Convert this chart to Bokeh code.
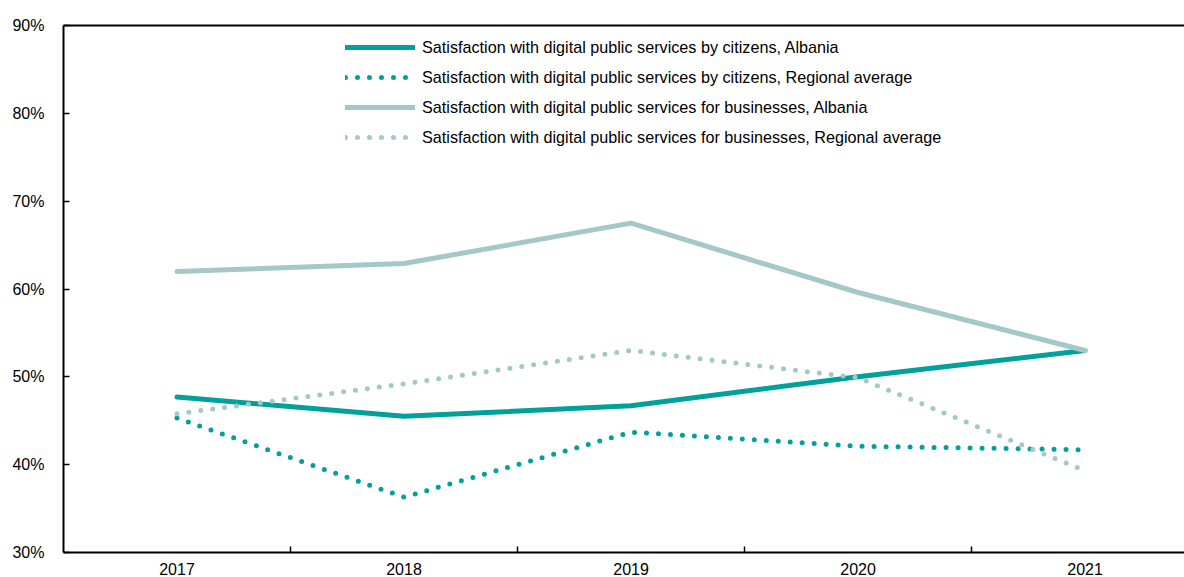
from bokeh.plotting import figure
from bokeh.models import Range1d, FixedTicker, LinearAxis, Legend, LegendItem, CustomJSTickFormatter
from bokeh.embed import file_html
from bokeh.resources import INLINE

years = ["2017", "2018", "2019", "2020", "2021"]
citizens_albania = [47.7, 45.5, 46.7, 50.0, 53.0]
citizens_regional = [45.3, 36.3, 43.7, 42.1, 41.7]
business_albania = [62.0, 62.9, 67.5, 59.6, 53.0]
business_regional = [45.8, 49.2, 53.0, 49.9, 39.3]
y_ticks = [30, 40, 50, 60, 70, 80, 90]

labels = [
    "Satisfaction with digital public services by citizens, Albania",
    "Satisfaction with digital public services by citizens, Regional average",
    "Satisfaction with digital public services for businesses, Albania",
    "Satisfaction with digital public services for businesses, Regional average",
]

TEAL = "#00a19a"
LIGHT = "#a3c8c7"
FONT = "Liberation Sans"

x = list(range(len(years)))

p = figure(width=1184, height=577, output_backend="svg", toolbar_location=None,
           x_range=Range1d(-0.5, 4.438), y_range=Range1d(30, 90),
           min_border_left=63, min_border_right=0, min_border_top=25, min_border_bottom=25)
p.outline_line_color = None
p.background_fill_color = "white"
p.xgrid.visible = False
p.ygrid.visible = False

# y axis
p.yaxis.ticker = FixedTicker(ticks=y_ticks, minor_ticks=[])
p.yaxis.formatter = CustomJSTickFormatter(code="return tick.toFixed(0) + '%';")
p.yaxis.major_tick_in = 6
p.yaxis.major_tick_out = 0
p.yaxis.major_label_standoff = 19
p.yaxis.axis_line_width = 2
p.yaxis.major_tick_line_width = 1.5

# x axis
p.xaxis.ticker = FixedTicker(ticks=x, minor_ticks=[0.5, 1.5, 2.5, 3.5])
p.xaxis.major_label_overrides = {i: years[i] for i in x}
p.xaxis.major_tick_line_color = None
p.xaxis.minor_tick_in = 6
p.xaxis.minor_tick_out = 0
p.xaxis.minor_tick_line_width = 1.5
p.xaxis.axis_line_width = 2
p.xaxis.major_label_standoff = 4

for ax in (p.xaxis[0], p.yaxis[0]):
    ax.major_label_text_font = FONT
    ax.major_label_text_font_size = "16px"
    ax.major_label_text_color = "black"
    ax.axis_line_color = "black"

top = LinearAxis(ticker=FixedTicker(ticks=[]), major_tick_line_color=None,
                 minor_tick_line_color=None, major_label_text_font_size="0px",
                 axis_line_width=2, axis_line_color="black")
p.add_layout(top, "above")

r1 = p.line(x, citizens_albania, line_color=TEAL, line_width=5, line_cap="round", line_join="round")
r2 = p.line(x, citizens_regional, line_color=TEAL, line_width=5, line_cap="round", line_dash="0 12")
r3 = p.line(x, business_albania, line_color=LIGHT, line_width=5, line_cap="round", line_join="round")
r4 = p.line(x, business_regional, line_color=LIGHT, line_width=5, line_cap="round", line_dash="0 12")

legend = Legend(items=[LegendItem(label=labels[i], renderers=[r]) for i, r in enumerate([r1, r2, r3, r4])],
                location=(282, 400), orientation="vertical")
legend.border_line_color = None
legend.background_fill_alpha = 0
legend.padding = 0
legend.margin = 0
legend.spacing = 0
legend.glyph_width = 70
legend.glyph_height = 30
legend.label_height = 30
legend.label_standoff = 7
legend.label_text_font = FONT
legend.label_text_font_size = "16.2px"
legend.label_text_color = "black"
p.add_layout(legend, "center")

open("out.html", "w").write(file_html(p, INLINE))
